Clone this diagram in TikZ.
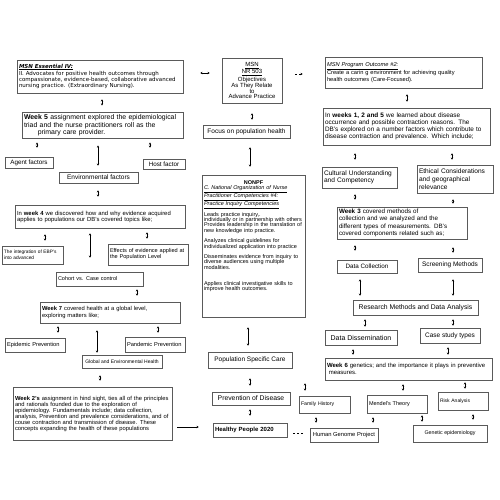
\documentclass[tikz,border=0pt]{standalone}
\usepackage{fontspec}
\setmainfont{Liberation Sans}
\newfontfamily\essfont{DejaVu Sans}
\usepackage{tikz}
\usetikzlibrary{arrows.meta,shadows}
\definecolor{boxline}{HTML}{5A5A5A}
\newcommand{\fsz}[2]{\fontsize{#1}{#2}\selectfont}

\begin{document}
\begin{tikzpicture}[x=1pt, y=-1pt,
  box/.style={draw=boxline, line width=0.6pt, fill=white, inner sep=2pt, drop shadow={shadow xshift=0.8pt, shadow yshift=-0.8pt, opacity=0.3}},
  para/.style={box, align=left, text width=#1},
  dlink/.style 2 args={line width=0.5pt, {Stealth[length=2.2pt,width=2.4pt]}-{Stealth[length=2.2pt,width=2.4pt]}, shorten <=#1pt, shorten >=#2pt},
  slink/.style 2 args={line width=0.5pt, -{Stealth[length=2.2pt,width=2.4pt]}, shorten <=#1pt, shorten >=#2pt}]
  \useasboundingbox (0,0) rectangle (500,500);

  % left column
  \node[para=162pt, minimum height=33pt, font=\essfont\fsz{5.5}{6.2}] (essential) at (100,76.5) {\underline{\textbf{\textit{MSN Essential IV:}}}\\ II. Advocates for positive health outcomes through\\ compassionate, evidence-based, collaborative advanced\\ nursing practice. (Extraordinary Nursing).};
  \node[para=157pt, minimum height=25pt, font=\fsz{6.9}{7.5}] (week5) at (102.5,125.5) {\textbf{Week 5} assignment explored the epidemiological\\ triad and the nurse practitioners roll as the\\ \hspace*{2em}primary care provider.};
  \node[box, minimum width=48pt, minimum height=11pt, font=\fsz{6.3}{7}] (agent) at (29,162.5) {Agent factors};
  \node[box, minimum width=42pt, minimum height=10pt, font=\fsz{6.3}{7}] (host) at (164,164) {Host factor};
  \node[box, minimum width=79pt, minimum height=11pt, font=\fsz{6.5}{7}] (env) at (98.5,177.5) {Environmental factors};
  \node[para=166pt, minimum height=23pt, font=\fsz{5.9}{6}] (week4) at (100,216.5) {In \textbf{week 4} we discovered how and why evidence acquired\\ applies to populations our DB's covered topics like;};
  \node[para=57pt, minimum height=18pt, font=\fsz{4.8}{5.7}] (ebp) at (32.5,255) {The integration of EBP's\\ into advanced};
  \node[para=76pt, minimum height=21pt, font=\fsz{5.6}{6}] (effects) at (148,254.5) {Effects of evidence applied at\\ the Population Level};
  \node[para=83pt, minimum height=14pt, font=\fsz{5.5}{6}] (cohort) at (99.5,279) {Cohort vs. Case control};
  \node[para=136pt, minimum height=21pt, font=\fsz{5.8}{6.3}] (week7) at (110,312.5) {\textbf{Week 7} covered health at a global level,\\ exploring matters like;};
  \node[para=56pt, minimum height=14pt, font=\fsz{5.7}{6}] (epidemic) at (35,345) {Epidemic Prevention};
  \node[para=56pt, minimum height=15pt, font=\fsz{5.7}{6}] (pandemic) at (155,344.5) {Pandemic Prevention};
  \node[box, minimum width=80pt, minimum height=13pt, font=\fsz{5}{6}] (global) at (122,361.5) {Global and Environmental Health};
  \node[para=155pt, minimum height=53pt, font=\fsz{5.8}{6}] (week2) at (92.5,413.5) {\textbf{Week 2's} assignment in hind sight, ties all of the principles\\ and rationals founded due to the exploration of\\ epidemiology. Fundamentals include; data collection,\\ analysis, Prevention and prevalence considerations, and of\\ couse contraction and transmission of disease. These\\ concepts expanding the health of these populations};

  % middle column
  \node[box, minimum width=60pt, minimum height=45pt, align=center, font=\fsz{6}{5.4}] (nr503) at (252,80.5) {\underline{MSN}\\ \underline{NR 503}\\ Objectives\\ As They Relate\\ to\\ Advance Practice};
  \node[box, minimum width=87pt, minimum height=13pt, font=\fsz{6.5}{7}] (focus) at (246.5,131.5) {Focus on population health};
  \node[para=99pt, minimum height=142pt, font=\fsz{5.5}{5.3}] (nonpf) at (253.5,246) {\hfill\textbf{NONPF}\hfill\mbox{}\\ \underline{\textit{C. National Organization of Nurse}}\\ \underline{\textit{Practitioner Competencies \#4:}}\\ \underline{\textit{Practice Inquiry Competencies}}\\ ~\\ Leads practice inquiry,.\\ individually or in partnership with others\\ Provides leadership in the translation of\\ new knowledge into practice.\\ ~\\ Analyzes clinical guidelines for\\ individualized application into practice\\ ~\\ Disseminates evidence from inquiry to\\ diverse audiences using multiple\\ modalities.\\ ~\\ ~\\ Applies clinical investigative skills to\\ improve health outcomes.\\ ~\\ ~\\ ~\\ ~};
  \node[box, minimum width=84pt, minimum height=16pt, font=\fsz{6.5}{7}] (popcare) at (250,360) {Population Specific Care};
  \node[box, minimum width=78pt, minimum height=13pt, font=\fsz{6.8}{7}] (prevention) at (251,398.5) {Prevention of Disease};
  \node[para=70pt, minimum height=14pt, font=\bfseries\fsz{6}{7}] (healthy) at (250,430) {Healthy People 2020};

  % right column
  \node[para=153pt, minimum height=31pt, font=\fsz{5.7}{6.2}] (outcome) at (403.5,72.5) {\underline{\textit{MSN Program Outcome \#2:}}\\ Create a carin g environment for achieving quality\\ health outcomes (Care-Focused).};
  \node[para=163pt, minimum height=37pt, font=\fsz{6.4}{6.8}] (weeks125) at (406.5,126.5) {In \textbf{weeks 1, 2 and 5} we learned about disease\\ occurrence and possible contraction reasons. The\\ DB's explored on a number factors which contribute to\\ disease contraction and prevalence. Which include;};
  \node[para=71pt, minimum height=21pt, font=\fsz{6.6}{7.4}] (cultural) at (359.5,177.5) {Cultural Understanding\\ and Competency};
  \node[para=72pt, minimum height=28pt, font=\fsz{6.6}{7.8}] (ethical) at (455,179) {Ethical Considerations\\ and geographical\\ relevance};
  \node[para=126pt, minimum height=30pt, font=\fsz{6.25}{7.4}] (week3) at (402,223) {\textbf{Week 3} covered methods of\\ collection and we analyzed and the\\ different types of measurements. DB's\\ covered components related such as;};
  \node[box, minimum width=60pt, minimum height=13pt, font=\fsz{6.3}{7}] (datacoll) at (367,266.5) {Data Collection};
  \node[box, minimum width=64pt, minimum height=14pt, font=\fsz{6.5}{7}] (screening) at (450,265) {Screening Methods};
  \node[box, minimum width=125pt, minimum height=15pt, font=\fsz{6.8}{7}] (research) at (415.5,307.5) {Research Methods and Data Analysis};
  \node[box, minimum width=72pt, minimum height=15pt, font=\fsz{7}{7}] (dissem) at (361,337.5) {Data Dissemination};
  \node[box, minimum width=60pt, minimum height=15pt, font=\fsz{6.5}{7}] (casestudy) at (450,335.5) {Case study types};
  \node[para=163pt, minimum height=22pt, font=\fsz{6}{6.8}] (week6) at (408.5,369) {\textbf{Week 6} genetics; and the importance it plays in preventive\\ \hspace*{0.3em}measures.};
  \node[para=47pt, minimum height=17pt, font=\fsz{5.2}{6}] (family) at (324.5,404.5) {Family History};
  \node[para=56pt, minimum height=18pt, font=\fsz{5.5}{6}] (mendel) at (397,404) {Mendel's Theory};
  \node[para=46pt, minimum height=18pt, font=\fsz{5}{6}] (risk) at (463,401) {Risk Analysis};
  \node[box, minimum width=68pt, minimum height=14pt, font=\fsz{5.8}{6}] (genome) at (344,435) {Human Genome Project};
  \node[box, minimum width=74pt, minimum height=17pt, font=\fsz{5.3}{6}] (genetic) at (450,433.5) {Genetic epidemiology};

  % connectors, left
  \draw[dlink={17}{12}] (essential.east |- 0,73) -- (nr503.west |- 0,73);
  \draw[dlink={6}{7}] (essential.south -| 102,0) -- (week5.north -| 102,0);
  \draw[dlink={4}{9}] (week5.south -| 37,0) -- (agent.north -| 37,0);
  \draw[dlink={7}{6}] (week5.south -| 98,0) -- (env.north -| 98,0);
  \draw[dlink={4}{11}] (week5.south -| 150,0) -- (host.north -| 150,0);
  \draw[dlink={7}{8}] (env.south -| 98,0) -- (week4.north -| 98,0);
  \draw[dlink={6}{5}] (week4.south -| 45,0) -- (ebp.north -| 45,0);
  \draw[dlink={5}{14}] (week4.south -| 90,0) -- (cohort.north -| 90,0);
  \draw[dlink={4}{5}] (week4.south -| 147,0) -- (effects.north -| 147,0);
  \draw[dlink={3}{6}] (cohort.south -| 137,0) -- (week7.north -| 137,0);
  \draw[dlink={3}{5}] (week7.south -| 58,0) -- (epidemic.north -| 58,0);
  \draw[dlink={7}{2}] (week7.south -| 97,0) -- (global.north -| 97,0);
  \draw[dlink={3}{4}] (week7.south -| 158,0) -- (pandemic.north -| 158,0);
  \draw[dlink={7}{6}] (global.south -| 100,0) -- (week2.north -| 100,0);
  \draw[slink={5}{14}] (week2.east |- 0,427) -- (healthy.west |- 0,427);

  % connectors, middle
  \draw[slink={13}{22}, dash pattern=on 2pt off 2pt] (nr503.east |- 0,74) -- (outcome.west |- 0,74);
  \draw[dlink={10}{5}] (nr503.south -| 252,0) -- (focus.north -| 252,0);
  \draw[dlink={9}{8}] (focus.south -| 250,0) -- (nonpf.north -| 250,0);
  \draw[dlink={10}{6}] (nonpf.south -| 248,0) -- (popcare.north -| 248,0);
  \draw[dlink={10}{6}] (popcare.south -| 250,0) -- (prevention.north -| 250,0);
  \draw[dlink={4}{7}] (prevention.south -| 250,0) -- (healthy.north -| 250,0);
  \draw[line width=0.5pt, dash pattern=on 2pt off 2pt, shorten <=6pt, shorten >=7pt] (healthy.east |- 0,433) -- (genome.west |- 0,433);

  % connectors, right
  \draw[dlink={6}{6}] (outcome.south -| 407,0) -- (weeks125.north -| 407,0);
  \draw[dlink={8}{7}] (weeks125.south -| 355,0) -- (cultural.north -| 355,0);
  \draw[dlink={8}{5}] (weeks125.south -| 452,0) -- (ethical.north -| 452,0);
  \draw[dlink={6}{7}] (cultural.south -| 355,0) -- (week3.north -| 355,0);
  \draw[dlink={6}{3}] (ethical.south -| 453,0) -- (week3.north -| 453,0);
  \draw[dlink={6}{9}] (week3.south -| 355,0) -- (datacoll.north -| 355,0);
  \draw[dlink={8}{5}] (week3.south -| 453,0) -- (screening.north -| 453,0);
  \draw[dlink={6}{4}] (datacoll.south -| 360,0) -- (research.north -| 360,0);
  \draw[dlink={7}{4}] (screening.south -| 453,0) -- (research.north -| 453,0);
  \draw[dlink={4}{3}] (research.south -| 365,0) -- (dissem.north -| 365,0);
  \draw[dlink={4}{2}] (research.south -| 453,0) -- (casestudy.north -| 453,0);
  \draw[dlink={4}{3}] (dissem.south -| 353,0) -- (week6.north -| 353,0);
  \draw[dlink={4}{3}] (casestudy.south -| 448,0) -- (week6.north -| 448,0);
  \draw[dlink={3}{5}] (week6.south -| 305,0) -- (family.north -| 305,0);
  \draw[dlink={4}{4}] (week6.south -| 403,0) -- (mendel.north -| 403,0);
  \draw[dlink={2}{3}] (week6.south -| 465,0) -- (risk.north -| 465,0);
  \draw[dlink={4}{5}] (family.south -| 316,0) -- (genome.north -| 316,0);
  \draw[dlink={4}{5}] (mendel.south -| 373,0) -- (genome.north -| 373,0);
  \draw[dlink={2}{3}] (mendel.south -| 422,0) -- (genetic.north -| 422,0);
  \draw[dlink={4}{5}] (risk.south -| 473,0) -- (genetic.north -| 473,0);
\end{tikzpicture}
\end{document}
